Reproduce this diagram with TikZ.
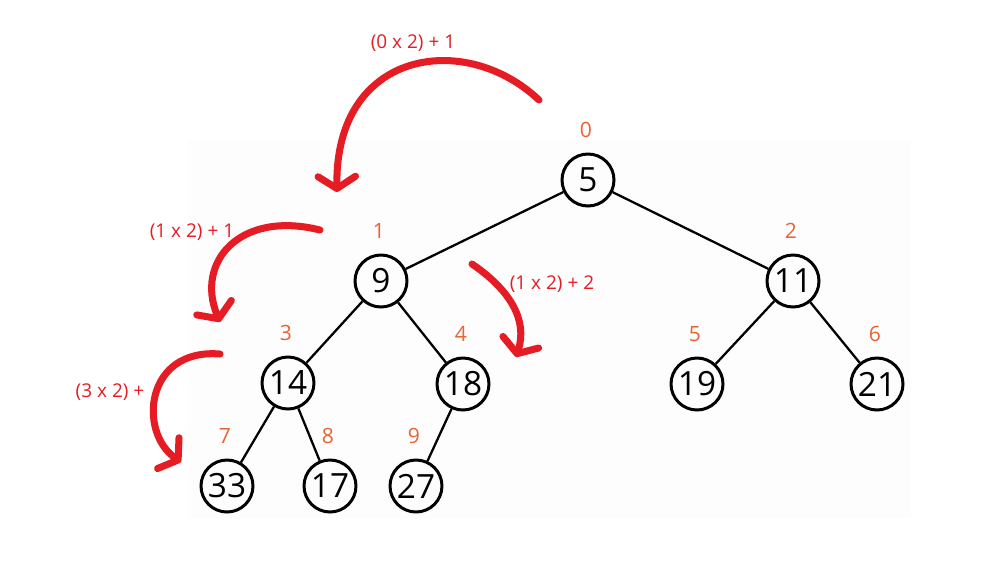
\documentclass[tikz,border=0pt]{standalone}
\usepackage{fontspec}
\setmainfont{Open Sans}
\usetikzlibrary{arrows.meta}
\definecolor{markred}{RGB}{230,28,36}
\definecolor{idxorange}{RGB}{232,100,50}
\definecolor{paper}{RGB}{253,253,253}

\begin{document}
\begin{tikzpicture}[x=0.02cm,y=-0.02cm,
	vertex/.style={draw,circle,line width=1.7pt,minimum size=1.04cm,inner sep=0pt,
		font=\fontsize{19}{20}\selectfont},
	idx/.style={text=idxorange,font=\fontsize{12}{13}\selectfont},
	hint/.style={text=markred,font=\fontsize{10.8}{12}\selectfont},
	hop/.style={markred,line width=4pt,line cap=round,
		-{Straight Barb[length=2.4mm,width=7.5mm,round]}}]
	\useasboundingbox (0,0) rectangle (981,579);
	\fill[paper] (188,141) rectangle (911,518);
	\foreach \X/\Y/\V [count=\Z from 0] in {588/180/5, 381/281/9, 793/281/11,
		288/383/14, 463/384/18, 697/384/19, 877/384/21, 227/486/33, 330/486/17, 416/486/27}
	{\node[idx] (i\Z) at (\X-2,\Y-50) {\Z};
	 \node[vertex] (v\Z) at (\X,\Y) {\V};}
	\foreach \A/\B in {0/1,0/2,1/3,1/4,2/5,2/6,3/7,3/8,4/9}
	{\draw[line width=1.3pt] (v\A) -- (v\B);}
	% index arithmetic
	\coordinate (a0) at (539,100); \coordinate (a1) at (337,192);
	\coordinate (b0) at (320,230); \coordinate (b1) at (220,322);
	\coordinate (c0) at (472,264); \coordinate (c1) at (516,357);
	\coordinate (d0) at (220,354); \coordinate (d1) at (181,462);
	\draw[hop] (a0) .. controls (465,30) and (335,50) .. (a1);
	\draw[hop] (b0) .. controls (240,210) and (195,262) .. (b1);
	\draw[hop] (c0) .. controls (510,290) and (528,320) .. (c1);
	\draw[hop] (d0) .. controls (145,348) and (138,432) .. (d1);
	\node[hint] (h0) at (413,43) {(0 x 2) + 1};
	\node[hint] (h1) at (192,232) {(1 x 2) + 1};
	\node[hint] (h2) at (552,284) {(1 x 2) + 2};
	\node[hint] (h3) at (110,392) {(3 x 2) +};
\end{tikzpicture}
\end{document}
